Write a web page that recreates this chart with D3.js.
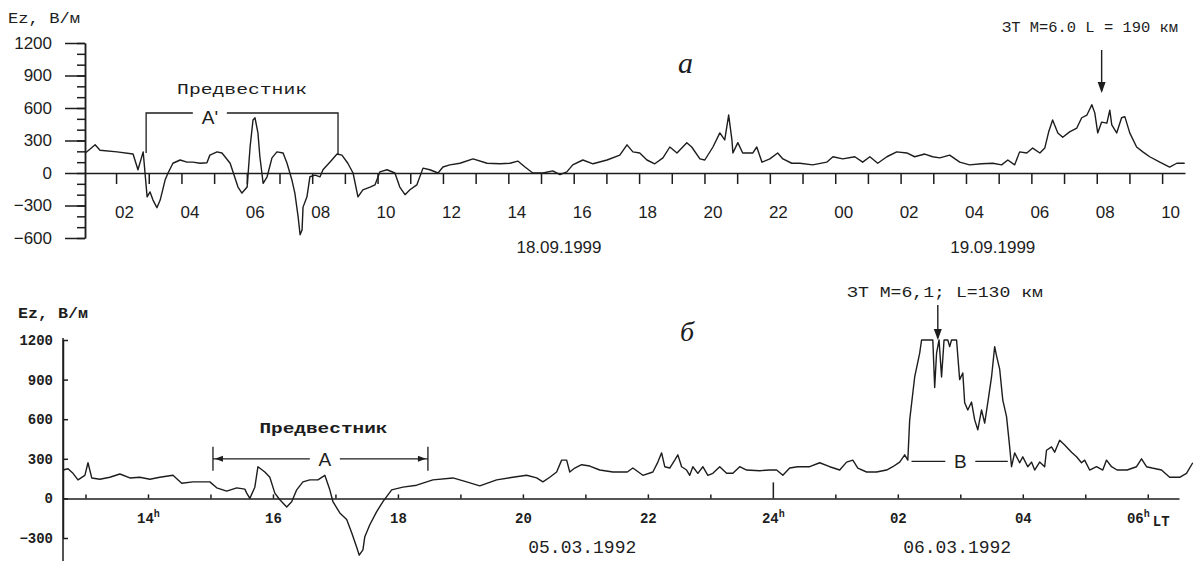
<!DOCTYPE html>
<html>
<head>
<meta charset="utf-8">
<script src="https://cdn.jsdelivr.net/npm/d3@7"></script>
<style>
  body { margin: 0; background: #fff; }
  svg { display: block; }
</style>
</head>
<body>
<svg id="chart" width="1203" height="561"></svg>
<script>
// ---- panel a: 18-19.09.1999, hours counted from 00h 18.09 ----
const hoursA = [1.08,1.36,1.51,2.03,2.52,2.67,2.83,2.95,3.04,3.13,
  3.25,3.35,3.50,3.59,3.74,3.96,4.17,4.35,4.57,4.78,
  4.87,5.09,5.24,5.49,5.73,5.85,6.01,6.10,6.19,6.25,
  6.34,6.40,6.50,6.62,6.77,6.92,7.11,7.23,7.38,7.47,
  7.57,7.63,7.69,7.72,7.84,7.93,8.09,8.24,8.33,8.54,
  8.76,8.91,9.09,9.25,9.40,9.55,9.77,9.92,10.07,10.29,
  10.53,10.68,10.84,10.99,11.20,11.39,11.60,11.85,12.00,12.21,
  12.52,12.92,13.35,13.74,14.05,14.29,14.51,14.75,15.06,15.36,
  15.58,15.79,15.97,16.28,16.59,17.02,17.41,17.63,17.81,18.02,
  18.24,18.48,18.73,18.94,19.16,19.46,19.61,19.86,20.01,20.26,
  20.47,20.62,20.74,20.84,20.87,21.02,21.17,21.48,21.60,21.76,
  22.00,22.24,22.40,22.67,22.92,23.31,23.74,23.93,24.23,24.60,
  24.84,25.06,25.30,25.58,25.88,26.19,26.43,26.74,26.98,27.20,
  27.50,27.81,28.11,28.48,28.82,29.09,29.28,29.49,29.64,29.86,
  30.04,30.26,30.41,30.53,30.65,30.81,30.96,31.17,31.39,31.54,
  31.70,31.85,31.94,32.03,32.15,32.31,32.40,32.46,32.61,32.76,
  32.86,33.01,33.22,33.41,33.62,33.93,34.23,34.45,34.69];
const ezA = [190,260,210,195,175,30,195,-220,-175,-250,
  -320,-250,-65,0,90,120,100,100,90,95,
  165,195,185,90,-130,-185,-130,240,490,510,
  370,150,-95,-35,140,195,185,90,-65,-185,
  -405,-570,-525,-315,-220,-35,-20,-35,30,100,
  175,165,90,0,-220,-155,-130,-110,10,30,
  0,-130,-200,-155,-110,45,30,0,55,75,
  90,130,90,85,90,110,55,0,0,20,
  -15,10,75,120,85,120,165,260,195,185,
  120,85,140,240,185,280,240,130,120,240,
  370,305,535,305,185,280,185,185,240,100,
  130,185,130,90,90,75,100,150,130,150,
  100,150,90,150,195,185,150,175,150,140,
  165,100,75,85,90,75,120,75,195,185,
  230,185,230,380,490,370,330,380,415,510,
  535,630,555,370,470,460,580,445,370,510,
  520,370,240,195,150,100,55,90,90];
const yTicksA = [-600, -300, 0, 300, 600, 900, 1200];
const precursorA = [2.92, 8.79];   // hours, bracket A'
const quakeA = 32.15;              // hour of the earthquake arrow
const datesA = ["18.09.1999", "19.09.1999"];
const dateHoursA = [15.55, 28.82];

// ---- panel б: 05-06.03.1992, hours counted from 00h 05.03 ----
const hoursB = [12.64,12.72,12.80,12.88,12.99,13.04,13.10,13.23,13.39,13.55,
  13.71,13.87,14.03,14.19,14.40,14.54,14.72,14.99,15.10,15.26,
  15.42,15.55,15.58,15.63,15.71,15.76,15.87,15.95,16.03,16.11,
  16.22,16.30,16.38,16.48,16.59,16.72,16.83,16.91,16.96,17.07,
  17.18,17.26,17.34,17.38,17.44,17.47,17.55,17.66,17.76,17.90,
  18.08,18.30,18.56,18.88,19.10,19.31,19.58,19.84,20.06,20.22,
  20.32,20.43,20.54,20.62,20.70,20.75,20.83,20.94,21.07,21.23,
  21.44,21.67,21.76,21.92,22.08,22.16,22.22,22.27,22.35,22.43,
  22.48,22.54,22.62,22.67,22.72,22.80,22.88,22.96,23.04,23.15,
  23.26,23.36,23.47,23.58,23.79,23.95,24.06,24.16,24.27,24.40,
  24.59,24.75,24.91,25.07,25.18,25.28,25.36,25.50,25.66,25.82,
  25.92,26.03,26.11,26.16,26.19,26.27,26.35,26.38,26.56,26.59,
  26.62,26.66,26.70,26.74,26.80,26.83,26.86,26.94,26.99,27.04,
  27.07,27.12,27.18,27.23,27.28,27.34,27.39,27.44,27.50,27.55,
  27.58,27.63,27.68,27.74,27.79,27.82,27.87,27.95,28.00,28.08,
  28.14,28.19,28.27,28.35,28.38,28.46,28.51,28.59,28.67,28.78,
  28.86,28.94,28.99,29.07,29.18,29.28,29.34,29.42,29.51,29.67,
  29.82,29.90,29.98,30.07,30.22,30.35,30.51,30.62,30.72];
const ezB = [215,225,190,140,175,270,155,145,160,185,
  155,160,145,160,175,115,125,125,80,55,
  80,70,40,0,85,240,200,160,40,-10,
  -65,-25,65,125,140,140,175,65,-25,-110,
  -160,-260,-370,-430,-390,-290,-200,-100,-25,65,
  85,100,140,155,125,95,140,160,175,155,
  125,160,200,290,290,200,230,255,245,215,
  200,200,230,175,200,275,345,240,230,290,
  330,240,215,175,240,190,240,175,190,240,
  190,190,240,215,210,215,215,175,230,240,
  240,270,240,215,275,290,230,200,200,215,
  240,275,330,290,595,920,1100,1200,1200,840,
  1100,1200,920,1200,1200,1150,1200,1200,900,950,
  725,670,730,595,520,670,570,725,920,1150,
  1080,980,745,620,390,240,345,270,315,240,
  275,215,275,240,365,390,350,440,405,350,
  315,270,290,215,240,215,290,240,215,215,
  240,300,240,230,215,160,160,190,270];
const yTicksB = [-300, 0, 300, 600, 900, 1200];
const labelHoursB = [14, 16, 18, 20, 22, 24, 26, 28, 30];
const labelTextB = ["14", "16", "18", "20", "22", "24", "02", "04", "06"];
const supHoursB = [14, 24, 30];
const precursorB = [15.04, 18.48];  // bracket A
const burstB = [26.22, 27.76];      // bracket B
const quakeB = 26.64;
const datesB = ["05.03.1992", "06.03.1992"];
const dateHoursB = [20.95, 26.95];

const ink = "#1d1d1d";
const svg = d3.select("#chart");
const sans = "'Liberation Sans', Arial, sans-serif";
const mono = "'Liberation Mono', 'Courier New', monospace";
const serif = "'Liberation Serif', 'Times New Roman', serif";
const plain = d3.format("d");

function label(g, x, y, s, opts) {
  const t = g.append("text")
    .attr("x", x).attr("y", y)
    .attr("fill", ink)
    .attr("font-family", opts.font || sans)
    .attr("font-size", opts.size || 16)
    .attr("text-anchor", opts.anchor || "start")
    .text(s);
  if (opts.italic) t.attr("font-style", "italic");
  if (opts.weight) t.attr("font-weight", opts.weight);
  if (opts.len) t.attr("textLength", opts.len).attr("lengthAdjust", "spacingAndGlyphs");
  return t;
}

function arrowDown(g, x, y1, y2) {
  g.append("line").attr("x1", x).attr("x2", x).attr("y1", y1).attr("y2", y2 - 2)
    .attr("stroke", ink).attr("stroke-width", 1.4);
  g.append("path").attr("d", `M${x},${y2} L${x - 4},${y2 - 11} L${x + 4},${y2 - 11} Z`).attr("fill", ink);
}

// =================== panel a ===================
const xA = d3.scaleLinear().domain([1.05, 34.7]).range([85, 1185]);
const yA = d3.scaleLinear().domain([-600, 1200]).range([238, 43]);
const gA = svg.append("g");

// y axis: minor ticks every 100, labelled every 300
gA.append("g").attr("transform", "translate(85,0)")
  .call(d3.axisLeft(yA).tickValues(d3.range(-600, 1201, 100)).tickSize(8).tickSizeOuter(0).tickFormat(""));
const yAxA = gA.append("g").attr("transform", "translate(85,0)")
  .call(d3.axisLeft(yA).tickValues(yTicksA).tickSize(20).tickSizeOuter(0).tickPadding(13).tickFormat(plain));

// time axis along the zero line
const xAxA = gA.append("g").attr("transform", `translate(0,${yA(0)})`)
  .call(d3.axisBottom(xA).tickValues(d3.range(2, 35)).tickSizeInner(11).tickSizeOuter(0).tickPadding(22)
    .tickFormat(h => h % 2 ? "" : d3.format("02")(h % 24)));
xAxA.selectAll("text").attr("dx", 8);

[yAxA, xAxA].forEach(a => a.attr("font-family", sans).attr("font-size", 17));
gA.selectAll(".domain, .tick line").attr("stroke", ink).attr("stroke-width", 1.5);
gA.selectAll(".tick text").attr("fill", ink);

gA.append("path")
  .datum(hoursA.map((h, i) => [h, ezA[i]]))
  .attr("fill", "none").attr("stroke", ink).attr("stroke-width", 1.4).attr("stroke-linejoin", "round")
  .attr("d", d3.line().x(d => xA(d[0])).y(d => yA(d[1])));

// bracket A' "Предвестник"
{
  const x1 = xA(precursorA[0]), x2 = xA(precursorA[1]);
  const cx = xA(4.87), top = yA(554);
  gA.append("path")
    .attr("d", `M${x1},${yA(185)} V${top} H${cx - 17} M${cx + 17},${top} H${x2} V${yA(166)}`)
    .attr("fill", "none").attr("stroke", ink).attr("stroke-width", 1.3);
  label(gA, cx, top + 11, "A'", { size: 19, anchor: "middle" });
  label(gA, (x1 + x2) / 2, 94, "Предвестник", { font: mono, size: 15, anchor: "middle", len: 130 });
}

label(gA, 8, 23, "Ez, В/м", { font: mono, size: 15, len: 72 });
label(gA, 678, 73, "a", { font: serif, size: 30, italic: true });
label(gA, 1002, 32, "ЗТ М=6.0  L = 190 км", { font: mono, size: 14, len: 176 });
arrowDown(gA, xA(quakeA), 50, 93);
datesA.forEach((s, i) => label(gA, xA(dateHoursA[i]), 253, s, { size: 17, anchor: "middle" }));

// =================== panel б ===================
const xB = d3.scaleLinear().domain([12.64, 30.5]).range([63, 1179]);
const yB = d3.scaleLinear().domain([-300, 1200]).range([538, 340]);
const gB = svg.append("g");

gB.append("line").attr("x1", 63).attr("x2", 63).attr("y1", yB(1215)).attr("y2", 561)
  .attr("stroke", ink).attr("stroke-width", 1.5);
const yAxB = gB.append("g").attr("transform", "translate(63,0)")
  .call(d3.axisLeft(yB).tickValues(yTicksB).tickSize(-5).tickSizeOuter(0).tickPadding(10).tickFormat(plain));

const xAxB = gB.append("g").attr("transform", `translate(0,${yB(0)})`)
  .call(d3.axisBottom(xB).tickValues(d3.range(13, 31)).tickSizeInner(-4).tickSizeOuter(0).tickPadding(15)
    .tickFormat(h => { const k = labelHoursB.indexOf(h); return k < 0 ? "" : labelTextB[k]; }));
xAxB.selectAll(".tick").filter(d => d === 24).select("line").attr("y2", -16);
xAxB.selectAll(".tick text").filter(d => supHoursB.includes(d))
  .append("tspan").attr("dy", "-0.6em").attr("font-size", 10).text("h");
xAxB.selectAll(".tick text").filter(d => d === 30)
  .append("tspan").attr("dy", "0.6em").attr("dx", 3).text("LT");

[yAxB, xAxB].forEach(a => a.attr("font-family", mono).attr("font-size", 14).attr("font-weight", "bold"));
gB.selectAll(".domain, .tick line").attr("stroke", ink).attr("stroke-width", 1.5);
gB.selectAll(".tick text").attr("fill", ink);

gB.append("path")
  .datum(hoursB.map((h, i) => [h, ezB[i]]))
  .attr("fill", "none").attr("stroke", ink).attr("stroke-width", 1.4).attr("stroke-linejoin", "round")
  .attr("d", d3.line().x(d => xB(d[0])).y(d => yB(d[1])));

// bracket A with arrows
{
  const x1 = xB(precursorB[0]), x2 = xB(precursorB[1]), y = yB(300), cx = xB(16.83);
  gB.append("path")
    .attr("d", `M${x1},${y - 12} V${y + 12} M${x2},${y - 12} V${y + 12} M${x1},${y} H${cx - 15} M${cx + 15},${y} H${x2}`)
    .attr("fill", "none").attr("stroke", ink).attr("stroke-width", 1.3);
  gB.append("path").attr("fill", ink)
    .attr("d", `M${x1 + 2},${y} l8,-3 v6 Z M${x2 - 2},${y} l-8,-3 v6 Z`);
  label(gB, cx, y + 7, "A", { size: 19, anchor: "middle" });
  label(gB, (x1 + x2) / 2 + 3, 433, "Предвестник", { font: mono, size: 15, anchor: "middle", len: 128, weight: "bold" });
}
// bracket B
{
  const x1 = xB(burstB[0]), x2 = xB(burstB[1]), y = yB(280), cx = xB(27.0);
  gB.append("path")
    .attr("d", `M${x1},${y} H${cx - 15} M${cx + 15},${y} H${x2}`)
    .attr("fill", "none").attr("stroke", ink).attr("stroke-width", 1.3);
  label(gB, cx, y + 7, "B", { size: 19, anchor: "middle" });
}

label(gB, 18, 318, "Ez, В/м", { font: mono, size: 15, len: 70, weight: "bold" });
label(gB, 680, 341, "б", { font: serif, size: 28, italic: true });
label(gB, 847, 297, "ЗТ М=6,1; L=130 км", { font: mono, size: 14, len: 196 });
arrowDown(gB, xB(quakeB), 305, yB(1200));
datesB.forEach((s, i) => label(gB, xB(dateHoursB[i]), 553, s, { font: mono, size: 18, anchor: "middle" }));
</script>
</body>
</html>
